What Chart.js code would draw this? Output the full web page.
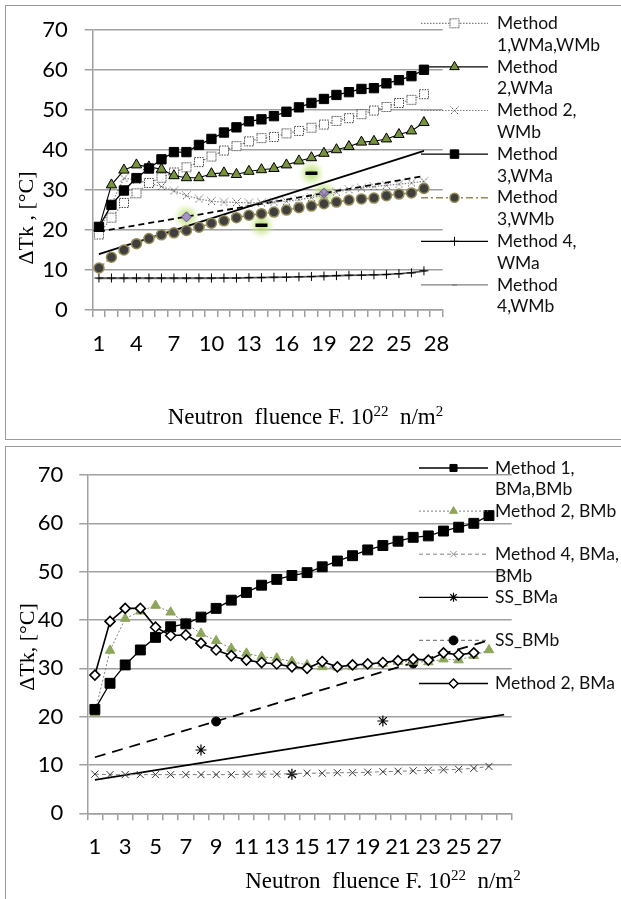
<!DOCTYPE html>
<html><head><meta charset="utf-8">
<script src="https://cdn.jsdelivr.net/npm/chart.js"></script>
<style>
html,body{margin:0;padding:0;background:#fff;width:621px;height:899px;overflow:hidden;position:relative}
.frame{position:absolute;border:1px solid #9a9a9a;}
canvas{position:absolute;left:0}
</style></head><body>
<div class="frame" style="left:5px;top:5px;width:640px;height:433px"></div>
<div class="frame" style="left:5px;top:446px;width:640px;height:470px"></div>
<canvas id="c1" width="621" height="440" style="top:0;width:621px;height:440px"></canvas>
<canvas id="c2" width="621" height="459" style="top:440px;width:621px;height:459px"></canvas>
<script>
// ---------- DATA ----------
const categories = ['1','2','3','4','5','6','7','8','9','10','11','12','13','14','15','16','17','18','19','20','21','22','23','24','25','26','27','28'];
const topTickLabels = ['1','4','7','10','13','16','19','22','25','28'];
const bottomTickLabels = ['1','3','5','7','9','11','13','15','17','19','21','23','25','27'];

// Top chart (W)
const m1W  = [18.9,23.1,26.8,29.2,31.8,33.1,34.4,35.7,37.0,38.4,39.9,41.0,42.2,43.0,43.3,44.2,44.8,45.6,46.4,47.3,48.0,49.0,49.9,50.8,51.8,52.6,54.0];
const m2Wa = [20.5,31.3,35.0,36.3,35.8,35.2,33.6,33.1,33.1,34.1,34.3,33.9,34.7,35.1,35.4,36.3,37.3,38.1,39.2,40.1,40.9,42.0,42.2,42.8,43.9,44.8,46.9];
const m2Wb = [19.5,26.5,33.0,32.5,31.7,30.9,29.8,28.6,27.8,27.2,27.0,26.9,26.8,26.8,27.0,27.2,27.6,28.1,28.8,29.5,30.1,30.5,30.9,31.2,31.5,31.8,32.2];
const m3Wa = [20.8,26.3,29.9,33.0,35.4,37.7,39.5,39.5,41.3,42.8,44.4,45.7,47.2,47.7,48.5,49.6,50.7,51.8,52.8,53.8,54.5,55.3,55.5,56.7,57.5,58.5,60.1];
const m3Wb = [10.5,13.2,15.0,16.6,17.9,18.8,19.3,19.9,20.7,21.7,22.3,23.1,23.7,24.1,24.5,25.0,25.6,26.0,26.6,27.0,27.5,27.8,28.0,28.6,29.0,29.3,30.4];
const m4Wa = [8.0,8.0,8.0,8.0,8.0,8.0,8.0,8.0,8.0,8.0,8.0,8.0,8.1,8.1,8.2,8.2,8.3,8.4,8.5,8.6,8.7,8.7,8.8,8.9,9.1,9.3,9.8];
const m4Wb = [7.9,7.9,7.9,7.9,7.9,7.9,7.9,7.9,7.9,7.9,8.0,8.0,8.0,8.1,8.1,8.2,8.3,8.3,8.4,8.5,8.6,8.7,8.8,8.9,9.0,9.3,9.7];
const topTrendSolid  = [14.0,null,null,null,null,null,null,null,null,null,null,null,null,null,null,null,null,null,null,null,null,null,null,null,null,null,39.8];
const topTrendDashed = [19.6,null,null,null,null,null,null,null,null,null,null,null,null,null,null,null,null,null,null,null,null,null,null,null,null,null,33.5];
const topDiamonds = [null,null,null,null,null,null,null,23.3,null,null,null,null,null,null,null,null,null,null,29.2];
const topDashes   = [null,null,null,null,null,null,null,null,null,null,null,null,null,21.2,null,null,null,34.2];

// Bottom chart (B)
const bM1   = [21.5,26.9,30.7,33.8,36.4,38.6,39.2,40.6,42.4,44.1,45.7,47.2,48.4,49.2,49.8,51.0,52.2,53.3,54.5,55.4,56.3,57.1,57.4,58.4,59.2,60.0,61.6];
const bM2b  = [20.8,33.7,40.3,41.8,43.0,41.6,39.3,37.2,35.7,34.1,33.1,32.4,32.1,31.4,30.7,30.3,30.2,30.4,30.8,31.0,31.4,31.4,31.3,31.9,31.7,32.6,33.8];
const bM2a  = [28.6,39.7,42.4,42.4,38.5,36.8,36.9,35.2,33.8,32.6,31.7,31.2,30.9,30.3,30.0,31.4,30.3,30.7,30.9,31.2,31.6,31.9,31.7,33.2,32.8,33.2];
const bM4   = [8.1,8.0,8.0,8.0,8.0,8.0,8.0,8.0,8.0,8.0,8.1,8.1,8.1,8.2,8.3,8.3,8.4,8.4,8.5,8.6,8.7,8.8,8.9,9.0,9.1,9.3,9.7];
const ssBMa = [null,null,null,null,null,null,null,13.1,null,null,null,null,null,8.1,null,null,null,null,null,19.1];
const ssBMb = [null,null,null,null,null,null,null,null,19.0,null,null,null,null,null,null,null,null,null,null,null,null,31.0];
const ssBMaTrend = [6.9,null,null,null,null,null,null,null,null,null,null,null,null,null,null,null,null,null,null,null,null,null,null,null,null,null,null,20.4];
const ssBMbTrend = [11.6,null,null,null,null,null,null,null,null,null,null,null,null,null,null,null,null,null,null,null,null,null,null,null,null,null,35.8];

// ---------- STYLE HELPERS ----------
const SANS = 'Lato, "Open Sans", sans-serif';
const SERIF = '"Liberation Serif", "Times New Roman", serif';
const GRID = '#a0a0a0';

function mkCanvas(w, h, fn) { const c = document.createElement('canvas'); c.width = w; c.height = h; fn(c.getContext('2d')); return c; }
const dottedSq = mkCanvas(12, 12, ctx => {
  ctx.fillStyle = '#fff'; ctx.fillRect(1.5, 1.5, 9, 9);
  ctx.strokeStyle = '#333'; ctx.lineWidth = 1; ctx.setLineDash([1.4, 1.2]); ctx.strokeRect(1.5, 1.5, 9, 9);
});
const dottedX = mkCanvas(11, 11, ctx => {
  ctx.strokeStyle = '#444'; ctx.lineWidth = 1; ctx.setLineDash([1.3, 1]);
  ctx.beginPath(); ctx.moveTo(1.5, 1.5); ctx.lineTo(9.5, 9.5); ctx.moveTo(9.5, 1.5); ctx.lineTo(1.5, 9.5); ctx.stroke();
});
const glowImg = mkCanvas(30, 30, ctx => {
  const g = ctx.createRadialGradient(15, 15, 1, 15, 15, 14);
  g.addColorStop(0, 'rgba(175,215,95,0.9)'); g.addColorStop(0.5, 'rgba(200,230,140,0.55)'); g.addColorStop(1, 'rgba(230,245,200,0)');
  ctx.fillStyle = g; ctx.fillRect(0, 0, 30, 30);
});
const glowData = categories.map((c, i) => (topDiamonds[i] != null ? topDiamonds[i] : (topDashes[i] != null ? topDashes[i] : null)));

function ds(label, data, o) {
  return Object.assign({ label, data, fill: false, tension: 0, pointHoverRadius: o.pointRadius || 0 }, o);
}

function drawMarker(ctx, pt, x, y) {
  if (!pt) return;
  ctx.save();
  ctx.setLineDash([]);
  ctx.fillStyle = pt.bg || 'rgba(0,0,0,0)';
  ctx.strokeStyle = pt.bc || '#000';
  ctx.lineWidth = pt.bw == null ? 1 : pt.bw;
  if (Chart.helpers && Chart.helpers.drawPoint) {
    Chart.helpers.drawPoint(ctx, { pointStyle: pt.style, radius: pt.r || 5, rotation: 0, borderWidth: ctx.lineWidth }, x, y);
  }
  ctx.restore();
}

const extrasPlugin = {
  id: 'extras',
  afterDraw(chart) {
    const o = chart.options.plugins.extras; if (!o) return;
    const ctx = chart.ctx;
    ctx.save();
    // legend
    const L = o.legend;
    L.items.forEach((it, k) => {
      const y = L.y0 + k * L.step;
      ctx.save();
      ctx.strokeStyle = it.line.c; ctx.lineWidth = it.line.w || 1.2; ctx.setLineDash(it.line.d || []);
      ctx.beginPath(); ctx.moveTo(L.x0, y); ctx.lineTo(L.x1, y); ctx.stroke();
      ctx.restore();
      drawMarker(ctx, it.pt, (L.x0 + L.x1) / 2, y);
      ctx.fillStyle = '#111'; ctx.font = '17.5px ' + SANS; ctx.textAlign = 'left'; ctx.textBaseline = 'middle';
      it.lines.forEach((t, j) => ctx.fillText(t, L.tx, y + j * L.lh));
    });
    // y title
    ctx.save();
    ctx.translate(o.ytitle.x, o.ytitle.y); ctx.rotate(-Math.PI / 2);
    ctx.font = '22px ' + SERIF; ctx.fillStyle = '#000'; ctx.textAlign = 'center'; ctx.textBaseline = 'middle';
    ctx.fillText(o.ytitle.text, 0, 0);
    ctx.restore();
    // x title with superscripts
    const segs = [['Neutron  fluence F. 10', 0], ['22', 1], ['  n/m', 0], ['2', 1]];
    const big = '23px ' + SERIF, small = '15px ' + SERIF;
    let total = 0;
    segs.forEach(s => { ctx.font = s[1] ? small : big; total += ctx.measureText(s[0]).width; });
    let x = o.xtitle.cx - total / 2;
    ctx.fillStyle = '#000'; ctx.textAlign = 'left'; ctx.textBaseline = 'alphabetic';
    segs.forEach(s => {
      ctx.font = s[1] ? small : big;
      ctx.fillText(s[0], x, o.xtitle.base - (s[1] ? 8 : 0));
      x += ctx.measureText(s[0]).width;
    });
    ctx.restore();
  }
};

function makeChart(id, geo, datasets, tickLabels, extras) {
  const el = document.getElementById(id);
  return new Chart(el, {
    type: 'line',
    data: { labels: categories, datasets },
    plugins: [extrasPlugin],
    options: {
      responsive: false, animation: false, devicePixelRatio: 1,
      layout: { padding: { left: 0, top: geo.top, right: el.width - geo.right, bottom: 0 } },
      plugins: { legend: { display: false }, tooltip: { enabled: false }, extras },
      scales: {
        x: {
          type: 'category', offset: true,
          grid: { offset: true, drawOnChartArea: false, drawTicks: true, tickLength: 7, color: GRID, lineWidth: 1.5 },
          border: { display: true, color: GRID, width: 1.5 },
          ticks: {
            autoSkip: false, maxRotation: 0, minRotation: 0, padding: geo.xpad, color: '#000',
            font: { family: SANS, size: 22 },
            callback: function (v) { const l = this.getLabelForValue(v); return tickLabels.includes(l) ? l : ''; }
          },
          afterFit(s) { s.height = el.height - geo.bottom; }
        },
        y: {
          min: 0, max: 70,
          grid: { color: GRID, lineWidth: 1.5, tickLength: 8, drawTicks: true },
          border: { display: true, color: GRID, width: 1.5 },
          ticks: { stepSize: 10, padding: geo.ypad, color: '#000', font: { family: SANS, size: 22 } },
          afterFit(s) { s.width = geo.left; }
        }
      }
    }
  });
}

// ---------- TOP CHART ----------
makeChart('c1', { left: 92.7, right: 442.7, top: 22.7, bottom: 310, xpad: 14, ypad: 17 }, [
  ds('Method 3,WMa', m3Wa, { borderColor: '#000', borderWidth: 1.3, pointStyle: 'rect', pointRadius: 6.6, pointBackgroundColor: '#000', pointBorderColor: '#000', pointBorderWidth: 1 }),
  ds('Method 2,WMa', m2Wa, { borderColor: '#000', borderWidth: 1.1, pointStyle: 'triangle', pointRadius: 6, pointBackgroundColor: '#77933C', pointBorderColor: '#000', pointBorderWidth: 1 }),
  ds('Method 1,WMa,WMb', m1W, { borderColor: '#7f7f7f', borderWidth: 1.2, borderDash: [1.5, 1.5], pointStyle: dottedSq, pointRadius: 5 }),
  ds('Method 2, WMb', m2Wb, { borderColor: '#7f7f7f', borderWidth: 1.2, borderDash: [1.5, 1.5], pointStyle: dottedX, pointRadius: 5 }),
  ds('Method 3,WMb', m3Wb, { borderColor: '#948A54', borderWidth: 1.5, borderDash: [7, 3, 2, 3], pointStyle: 'circle', pointRadius: 5, pointBackgroundColor: '#3f3f3f', pointBorderColor: '#948A54', pointBorderWidth: 1.5 }),
  ds('Method 4, WMa', m4Wa, { borderColor: '#595959', borderWidth: 1.5, pointStyle: 'cross', pointRadius: 4.5, pointBorderColor: '#000', pointBorderWidth: 1 }),
  ds('Method 4,WMb', m4Wb, { borderColor: '#808080', borderWidth: 1.5, pointStyle: 'line', pointRadius: 2.5, pointBorderColor: '#808080', pointBorderWidth: 1.5 }),
  ds('highlight diamonds', topDiamonds, { showLine: false, pointStyle: 'rectRot', pointRadius: 5, pointBackgroundColor: '#a593c9', pointBorderColor: '#5f4b8b', pointBorderWidth: 1 }),
  ds('highlight dashes', topDashes, { showLine: false, pointStyle: 'line', pointRadius: 6, pointBorderColor: '#000', pointBorderWidth: 3.5 }),
  ds('trend solid', topTrendSolid, { spanGaps: true, borderColor: '#000', borderWidth: 1.8, pointRadius: 0 }),
  ds('trend dashed', topTrendDashed, { spanGaps: true, borderColor: '#000', borderWidth: 1.8, borderDash: [6, 4], pointRadius: 0 }),
  ds('glow', glowData, { showLine: false, pointStyle: glowImg, pointRadius: 12 })
], topTickLabels, {
  legend: {
    x0: 421, x1: 488, tx: 497, y0: 23.3, step: 43.6, lh: 21.8,
    items: [
      { lines: ['Method', '1,WMa,WMb'], line: { c: '#7f7f7f', w: 1.2, d: [1.5, 1.5] }, pt: { style: dottedSq, r: 5 } },
      { lines: ['Method', '2,WMa'], line: { c: '#000', w: 1.2 }, pt: { style: 'triangle', r: 5.5, bg: '#77933C', bc: '#000', bw: 1 } },
      { lines: ['Method 2,', 'WMb'], line: { c: '#7f7f7f', w: 1.2, d: [1.5, 1.5] }, pt: { style: dottedX, r: 5 } },
      { lines: ['Method', '3,WMa'], line: { c: '#000', w: 1.3 }, pt: { style: 'rect', r: 6, bg: '#000', bc: '#000', bw: 1 } },
      { lines: ['Method', '3,WMb'], line: { c: '#948A54', w: 1.5, d: [7, 3, 2, 3] }, pt: { style: 'circle', r: 4.5, bg: '#3f3f3f', bc: '#948A54', bw: 1.5 } },
      { lines: ['Method 4,', 'WMa'], line: { c: '#000', w: 1.3 }, pt: { style: 'cross', r: 4.5, bc: '#000', bw: 1 } },
      { lines: ['Method', '4,WMb'], line: { c: '#808080', w: 1.3 }, pt: { style: 'line', r: 2.5, bc: '#808080', bw: 1.5 } }
    ]
  },
  ytitle: { text: 'ΔTk , [°C]', x: 27, y: 218 },
  xtitle: { cx: 305.5, base: 424 }
});

// ---------- BOTTOM CHART ----------
makeChart('c2', { left: 87.3, right: 511.7, top: 35, bottom: 373.3, xpad: 13.5, ypad: 16 }, [
  ds('Method 1, BMa,BMb', bM1, { borderColor: '#000', borderWidth: 1.3, pointStyle: 'rect', pointRadius: 7, pointBackgroundColor: '#000', pointBorderColor: '#000', pointBorderWidth: 1 }),
  ds('Method 2, BMa', bM2a, { borderColor: '#000', borderWidth: 1.6, pointStyle: 'rectRot', pointRadius: 5, pointBackgroundColor: '#fff', pointBorderColor: '#000', pointBorderWidth: 1.6 }),
  ds('Method 2, BMb', bM2b, { borderColor: '#808080', borderWidth: 1, borderDash: [2, 2], pointStyle: 'triangle', pointRadius: 5.5, pointBackgroundColor: '#8ea65a', pointBorderColor: '#8ea65a', pointBorderWidth: 1 }),
  ds('Method 4, BMa, BMb', bM4, { borderColor: '#7f7f7f', borderWidth: 1, borderDash: [4, 3], pointStyle: 'crossRot', pointRadius: 5, pointBorderColor: '#333', pointBorderWidth: 1 }),
  ds('SS_BMa', ssBMa, { showLine: false, pointStyle: 'star', pointRadius: 5.5, pointBorderColor: '#000', pointBorderWidth: 1.2 }),
  ds('SS_BMb', ssBMb, { showLine: false, pointStyle: 'circle', pointRadius: 4.5, pointBackgroundColor: '#000', pointBorderColor: '#000', pointBorderWidth: 1 }),
  ds('SS_BMa trend', ssBMaTrend, { spanGaps: true, borderColor: '#000', borderWidth: 1.8, pointRadius: 0 }),
  ds('SS_BMb trend', ssBMbTrend, { spanGaps: true, borderColor: '#000', borderWidth: 1.8, borderDash: [11, 7], pointRadius: 0 })
], bottomTickLabels, {
  legend: {
    x0: 419, x1: 488, tx: 495, y0: 28, step: 43.1, lh: 21.8,
    items: [
      { lines: ['Method 1,', 'BMa,BMb'], line: { c: '#000', w: 1.3 }, pt: { style: 'rect', r: 5, bg: '#000', bc: '#000', bw: 1 } },
      { lines: ['Method 2, BMb'], line: { c: '#808080', w: 1, d: [2, 2] }, pt: { style: 'triangle', r: 4.5, bg: '#8ea65a', bc: '#8ea65a', bw: 1 } },
      { lines: ['Method 4, BMa,', 'BMb'], line: { c: '#7f7f7f', w: 1, d: [4, 3] }, pt: { style: 'crossRot', r: 4.5, bc: '#909090', bw: 1 } },
      { lines: ['SS_BMa'], line: { c: '#000', w: 1.3 }, pt: { style: 'star', r: 4.5, bc: '#000', bw: 1.2 } },
      { lines: ['SS_BMb'], line: { c: '#808080', w: 1.2, d: [4, 3] }, pt: { style: 'circle', r: 4.5, bg: '#000', bc: '#000', bw: 1 } },
      { lines: ['Method 2, BMa'], line: { c: '#000', w: 1.5 }, pt: { style: 'rectRot', r: 4.5, bg: '#fff', bc: '#000', bw: 1.5 } }
    ]
  },
  ytitle: { text: 'ΔTk, [°C]', x: 28, y: 207 },
  xtitle: { cx: 383, base: 448 }
});
</script>
</body></html>
